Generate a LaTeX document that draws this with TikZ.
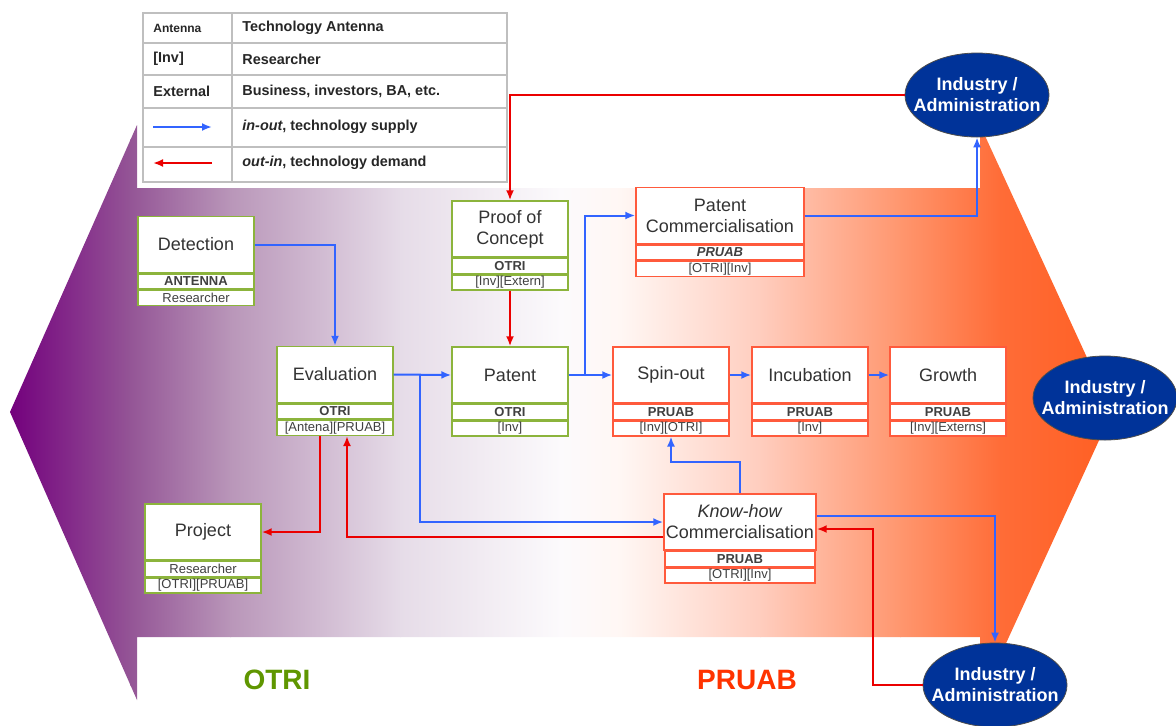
\documentclass[tikz,border=0pt]{standalone}
\usepackage{fontspec}
\setmainfont{Liberation Sans}
\usetikzlibrary{positioning,shapes.geometric,arrows.meta,calc}

\definecolor{otrigreen}{RGB}{140,180,60}
\definecolor{pruabred}{RGB}{255,90,60}
\definecolor{inblue}{RGB}{50,100,255}
\definecolor{outred}{RGB}{235,0,0}
\definecolor{indblue}{RGB}{0,51,153}
\definecolor{otritext}{RGB}{95,150,0}
\definecolor{pruabtext}{RGB}{255,51,0}
\definecolor{bg0}{RGB}{115,0,125}
\definecolor{bg1}{RGB}{148,85,150}
\definecolor{bg2}{RGB}{185,150,185}
\definecolor{bg3}{RGB}{230,220,232}
\definecolor{bg4}{RGB}{252,250,252}
\definecolor{bg5}{RGB}{255,247,244}
\definecolor{bg6}{RGB}{255,205,190}
\definecolor{bg7}{RGB}{255,150,110}
\definecolor{bg8}{RGB}{255,108,55}
\definecolor{bg9}{RGB}{255,95,35}

\begin{document}
\begin{tikzpicture}[x=0.5pt,y=-0.5pt,
	stage/.style={draw, fill=white, line width=0.7pt, minimum width=58pt, minimum height=28pt, inner sep=1pt, align=center, text=black!80, font=\fontsize{9}{10.5}\selectfont},
	rowa/.style={draw, fill=white, line width=0.7pt, minimum width=58pt, minimum height=7.5pt, inner sep=0pt, text=black!75, font=\fontsize{6.5}{7}\selectfont\bfseries},
	rowb/.style={rowa, font=\fontsize{6.5}{7}\selectfont},
	ext/.style={ellipse, draw=black!70, fill=indblue, minimum width=72pt, minimum height=42pt, inner sep=0pt},
	exttext/.style={align=center, text=white, font=\fontsize{9}{10.5}\selectfont\bfseries},
	inout/.style={draw=inblue, line width=1pt, -{Latex[length=5pt,width=4pt]}},
	outin/.style={draw=outred, line width=1pt, -{Latex[length=5pt,width=4pt]}},
	legline/.style={draw=black!25, line width=0.8pt},
	legtext/.style={anchor=west, inner sep=0pt, text=black!85, font=\fontsize{7.2}{8}\selectfont\bfseries}]

	\clip (0,0) rectangle (1176,725);

	% background double arrow
	\begin{scope}
		\clip (10,412) -- (137,125) -- (137,188) -- (980,188) -- (980,125) -- (1112,412)
			-- (980,700) -- (980,637) -- (137,637) -- (137,700) -- cycle;
		\shade[left color=bg0, right color=bg1] (9,100) rectangle (131,720);
		\shade[left color=bg1, right color=bg2] (130,100) rectangle (231,720);
		\shade[left color=bg2, right color=bg3] (230,100) rectangle (401,720);
		\shade[left color=bg3, right color=bg4] (400,100) rectangle (561,720);
		\shade[left color=bg4, right color=bg5] (560,100) rectangle (621,720);
		\shade[left color=bg5, right color=bg6] (620,100) rectangle (761,720);
		\shade[left color=bg6, right color=bg7] (760,100) rectangle (901,720);
		\shade[left color=bg7, right color=bg8] (900,100) rectangle (1001,720);
		\shade[left color=bg8, right color=bg9] (1000,100) rectangle (1113,720);
	\end{scope}

	% legend
	\draw[legline] (143,13) rectangle (507,182);
	\draw[legline] (143,43) -- (507,43);
	\draw[legline] (143,75) -- (507,75);
	\draw[legline] (143,108) -- (507,108);
	\draw[legline] (143,147) -- (507,147);
	\draw[legline] (232,13) -- (232,182);
	\node[legtext, font=\fontsize{6}{7}\selectfont\bfseries] (leg1a) at (153,28) {Antenna};
	\node[legtext] (leg1b) at (242,28) {Technology Antenna};
	\node[legtext] (leg2a) at (153,59) {[Inv]};
	\node[legtext] (leg2b) at (242,59) {Researcher};
	\node[legtext] (leg3a) at (153,91) {External};
	\node[legtext] (leg3b) at (242,91) {Business, investors, BA, etc.};
	\coordinate (leg4s) at (153,127);
	\coordinate (leg4e) at (212,127);
	\draw[inout] (leg4s) -- (leg4e);
	\node[legtext] (leg4b) at (242,127) {\textit{in-out}, technology supply};
	\coordinate (leg5s) at (212,163);
	\coordinate (leg5e) at (153,163);
	\draw[outin] (leg5s) -- (leg5e);
	\node[legtext] (leg5b) at (242,163) {\textit{out-in}, technology demand};

	% OTRI stages
	\node[stage, draw=otrigreen] (det) at (196,244.5) {Detection};
	\node[rowa, draw=otrigreen, below=0pt of det] (det-a) {ANTENNA};
	\node[rowb, draw=otrigreen, below=0pt of det-a] (det-b) {Researcher};

	\node[stage, draw=otrigreen] (eval) at (335,374.5) {Evaluation};
	\node[rowa, draw=otrigreen, below=0pt of eval] (eval-a) {OTRI};
	\node[rowb, draw=otrigreen, below=0pt of eval-a] (eval-b) {[Antena][PRUAB]};

	\node[stage, draw=otrigreen] (poc) at (510,229) {Proof of\\Concept};
	\node[rowa, draw=otrigreen, below=0pt of poc] (poc-a) {OTRI};
	\node[rowb, draw=otrigreen, below=0pt of poc-a] (poc-b) {[Inv][Extern]};

	\node[stage, draw=otrigreen] (pat) at (510,375) {Patent};
	\node[rowa, draw=otrigreen, below=0pt of pat] (pat-a) {OTRI};
	\node[rowb, draw=otrigreen, below=0pt of pat-a] (pat-b) {[Inv]};

	\node[stage, draw=otrigreen] (proj) at (203,532) {Project};
	\node[rowb, draw=otrigreen, below=0pt of proj] (proj-a) {Researcher};
	\node[rowb, draw=otrigreen, below=0pt of proj-a] (proj-b) {[OTRI][PRUAB]};

	% PRUAB stages
	\node[stage, draw=pruabred, minimum width=84pt] (pcom) at (720,215.5) {Patent\\Commercialisation};
	\node[rowa, draw=pruabred, minimum width=84pt, below=0pt of pcom] (pcom-a) {\itshape PRUAB};
	\node[rowb, draw=pruabred, minimum width=84pt, below=0pt of pcom-a] (pcom-b) {[OTRI][Inv]};

	\node[stage, draw=pruabred] (spin) at (671,375) {Spin-out};
	\node[rowa, draw=pruabred, below=0pt of spin] (spin-a) {PRUAB};
	\node[rowb, draw=pruabred, below=0pt of spin-a] (spin-b) {[Inv][OTRI]};

	\node[stage, draw=pruabred] (inc) at (810,375) {Incubation};
	\node[rowa, draw=pruabred, below=0pt of inc] (inc-a) {PRUAB};
	\node[rowb, draw=pruabred, below=0pt of inc-a] (inc-b) {[Inv]};

	\node[stage, draw=pruabred] (grow) at (948,375) {Growth};
	\node[rowa, draw=pruabred, below=0pt of grow] (grow-a) {PRUAB};
	\node[rowb, draw=pruabred, below=0pt of grow-a] (grow-b) {[Inv][Externs]};

	\node[stage, draw=pruabred, minimum width=75pt] (know) at (740,522) {\textit{Know-how}\\Commercialisation};
	\node[rowa, draw=pruabred, minimum width=75pt, below=0pt of know] (know-a) {PRUAB};
	\node[rowb, draw=pruabred, minimum width=75pt, below=0pt of know-a] (know-b) {[OTRI][Inv]};

	% outside world
	\node[ext, label={[exttext]center:{Industry /\\Administration}}] (ind1) at (977,95) {};
	\node[ext, label={[exttext]center:{Industry /\\Administration}}] (ind2) at (1105,398) {};
	\node[ext, label={[exttext]center:{Industry /\\Administration}}] (ind3) at (995,685) {};

	% connectors
	\draw[inout] (det.east) -| (eval.north);
	\draw[inout] (eval.east) -- (pat.west);
	\draw[inout] ($(eval.east)+(26,0)$) |- (know.west);
	\draw[outin] (poc-b.south) -- (pat.north);
	\draw[inout] (pat.east) -- (spin.west);
	\draw[inout] ($(pat.east)+(16,0)$) |- (pcom.west);
	\draw[inout] (spin.east) -- (inc.west);
	\draw[inout] (inc.east) -- (grow.west);
	\draw[inout] (pcom.east) -| (ind1.south);
	\draw[outin] (ind1.west) -| (poc.north);
	\draw[inout] (know.north) -- ++(0,-31) -| (spin-b.south);
	\draw[inout] ($(know.east)+(0,-6)$) -| (ind3.north);
	\draw[outin] (ind3.west) -- ++(-50,0) |- ($(know.east)+(0,7)$);
	\draw[outin] ($(know.west)+(0,15)$) -| ($(eval-b.south)+(12,0)$);
	\draw[outin] ($(eval-b.south)+(-15,0)$) |- (proj.east);

	% areas
	\node[font=\fontsize{14}{16}\selectfont\bfseries, text=otritext] (otri) at (277,680) {OTRI};
	\node[font=\fontsize{14}{16}\selectfont\bfseries, text=pruabtext] (pruab) at (747,680) {PRUAB};
\end{tikzpicture}
\end{document}
